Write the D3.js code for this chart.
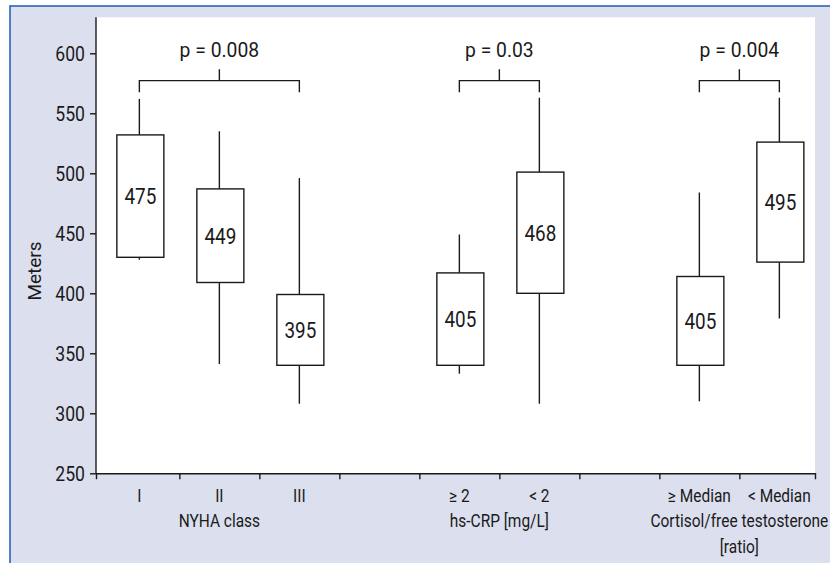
<!DOCTYPE html>
<html><head><meta charset="utf-8">
<script src="https://cdn.jsdelivr.net/npm/d3@7"></script>
<style>
body{margin:0;background:#fff;}
text{font-family:Roboto,"Liberation Sans",sans-serif;fill:#1a1a1a;}
</style></head><body>
<svg id="chart" width="830" height="563"></svg>
<script>
// ---- data ----
const categories = ["I","II","III","","\u2265 2","< 2","","\u2265 Median","< Median"];
const groupLabels = [["NYHA class"],["hs-CRP [mg/L]"],["Cortisol/free testosterone","[ratio]"]];
const groupCenters = [1, 4.5, 7.5];
const whiskerLow  = [428, 341, 308, null, 333, 308, null, 310, 379];
const boxLow      = [430, 409, 340, null, 340, 400, null, 340, 426];
const boxHigh     = [532, 487, 399, null, 417, 501, null, 414, 526];
const whiskerHigh = [562, 535, 496, null, 449, 563, null, 484, 563];
const medians     = [475, 449, 395, null, 405, 468, null, 405, 495];
const brackets = [
  {from:0, to:2, p:"p = 0.008"},
  {from:4, to:5, p:"p = 0.03"},
  {from:7, to:8, p:"p = 0.004"}
];
const yTicks = [250,300,350,400,450,500,550,600];
const yDomain = [250, 630];

// ---- layout ----
const svg = d3.select("#chart");
const x = d3.scaleLinear().domain([-0.542, 8.4455]).range([96, 815]);
const y = d3.scaleLinear().domain(yDomain).range([473.3, 17.3]);
const ink = "#1a1a1a";
const SX = 0.86; // condensed look

function label(parent, t, px, py, size, opts={}) {
  const rot = opts.rotate ? ` rotate(${opts.rotate})` : "";
  return parent.append("text")
    .attr("transform", `translate(${px},${py})${rot} scale(${opts.sx||SX},1)`)
    .attr("text-anchor", opts.anchor || "middle")
    .attr("dy", opts.dy || null)
    .style("font-size", size + "px").text(t);
}

svg.append("rect").attr("x",10).attr("y",6).attr("width",830).attr("height",600)
  .attr("fill","#dcdfee").attr("stroke","#2b62b8").attr("stroke-width",1.6);
svg.append("rect").attr("x",x.range()[0]).attr("y",y.range()[1])
  .attr("width",x.range()[1]-x.range()[0]).attr("height",y.range()[0]-y.range()[1])
  .attr("fill","#ffffff");

// y axis
const ya = svg.append("g").attr("transform",`translate(${x.range()[0]},0)`)
  .call(d3.axisLeft(y).tickValues(yTicks).tickSize(6).tickSizeOuter(0).tickFormat(""));
ya.selectAll("line,path").attr("stroke",ink).attr("stroke-width",1.4);
ya.select(".domain").attr("d",`M0,${y.range()[0]}V${y.range()[1]}`);
yTicks.forEach(v => label(svg, v, x.range()[0]-11, y(v), 20, {anchor:"end", dy:"0.36em", sx:0.88}));

// x axis: ticks at category boundaries
const boundaries = d3.range(0, categories.length-1).map(i=>i+0.5);
const xa = svg.append("g").attr("transform",`translate(0,${y.range()[0]})`)
  .call(d3.axisBottom(x).tickValues(boundaries).tickFormat("").tickSize(6).tickSizeOuter(6));
xa.selectAll("line,path").attr("stroke",ink).attr("stroke-width",1.4);

categories.forEach((d,i)=>{ if(d) label(svg, d, x(i), 502, 18); });

groupLabels.forEach((lines,gi)=>{
  lines.forEach((t,j)=> label(svg, t, x(groupCenters[gi]), 527+j*26, 18));
});

label(svg, "Meters", 41, 271, 19, {rotate:-90, sx:1});

// boxes
const bw = 47;
const idx = d3.range(categories.length).filter(i=>boxLow[i]!==null);
const g = svg.append("g");
idx.forEach(i=>{
  const cx = x(i);
  g.append("line").attr("x1",cx).attr("x2",cx).attr("y1",y(whiskerHigh[i])).attr("y2",y(boxHigh[i]))
    .attr("stroke",ink).attr("stroke-width",1.4);
  g.append("line").attr("x1",cx).attr("x2",cx).attr("y1",y(boxLow[i])).attr("y2",y(whiskerLow[i]))
    .attr("stroke",ink).attr("stroke-width",1.4);
  g.append("rect").attr("x",cx-bw/2+1).attr("y",y(boxHigh[i])).attr("width",bw)
    .attr("height",y(boxLow[i])-y(boxHigh[i])).attr("fill","#fff").attr("stroke",ink).attr("stroke-width",1.4);
  label(g, medians[i], cx+1, y((boxLow[i]+boxHigh[i])/2), 22, {dy:"0.36em"});
});

// brackets
brackets.forEach(b=>{
  const x1=x(b.from), x2=x(b.to), xm=(x1+x2)/2;
  const yb=y(577.2), ye=y(567.5), yt=y(586.7);
  g.append("path").attr("d",`M${x1},${ye}V${yb}H${x2}V${ye}M${xm},${yb}V${yt}`)
    .attr("fill","none").attr("stroke",ink).attr("stroke-width",1.4);
  label(g, b.p, xm, y(597), 21, {sx:0.92});
});
</script></body></html>
